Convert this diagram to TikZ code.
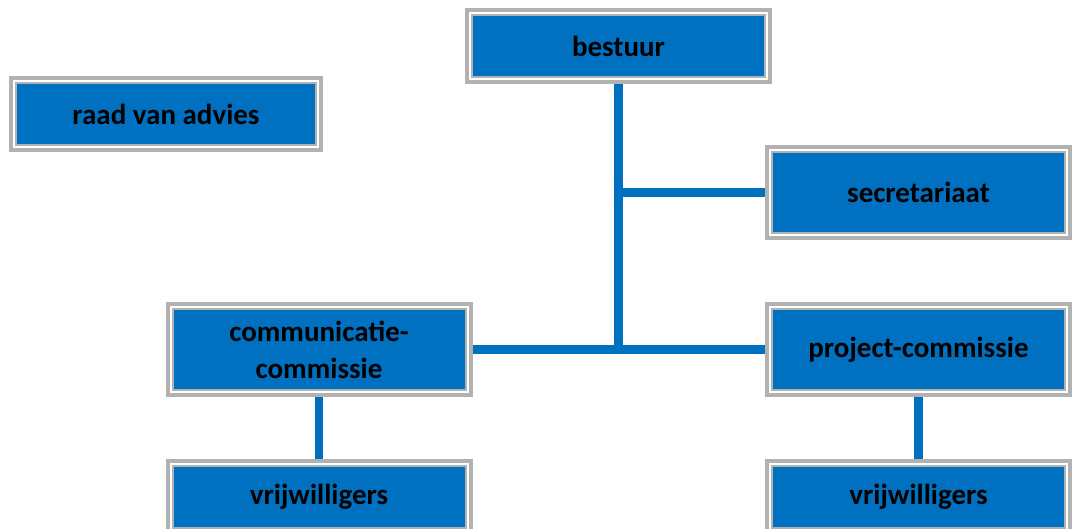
\documentclass[tikz,border=0pt]{standalone}
\usepackage{fontspec}
\setmainfont{Carlito}
\usetikzlibrary{positioning}

\definecolor{orgblue}{RGB}{0,112,192}
\definecolor{framegray}{RGB}{178,178,178}

\tikzset{
	unit/.style={rectangle, fill=orgblue, draw=framegray, line width=2pt,
		preaction={draw=framegray, line width=14pt},
		preaction={draw=white, line width=6pt},
		minimum width=293pt, minimum height=81pt, outer sep=7pt,
		inner sep=0pt, align=center,
		font=\bfseries\fontsize{29}{37}\selectfont},
	flat/.style={unit, minimum height=62pt},
	link/.style={draw=orgblue, line width=8.5pt}
}

\begin{document}
\begin{tikzpicture}[x=1pt,y=-1pt,node distance=157pt,on grid]
	\useasboundingbox (0,0) rectangle (1073,529);

	\node[flat] 			(bestuur) at (618.5,46)		{bestuur};
	\node[flat, minimum width=300pt] (raad) at (166,114.5)	{raad van advies};
	\node[unit] 			(secr) at (918.5,192.5)		{secretariaat};
	\node[unit] 			(proj) [below=of secr]		{project-commissie};
	\node[unit] 			(comm) [left=599.5pt of proj]	{communicatie-\\commissie};
	\node[flat] 			(vrijwR) [below=147.5pt of proj]	{vrijwilligers};
	\node[flat] 			(vrijwL) [below=147.5pt of comm]	{vrijwilligers};

	\coordinate (j_1) at (bestuur.south |- secr.west);
	\coordinate (j_2) at (bestuur.south |- proj.west);

\path[link]
	(bestuur.south)	--	(j_2)
	(j_1)			--	(secr.west)
	(comm.east)		--	(comm.east -| proj.west)
	(comm.south)	--	(vrijwL.north)
	(proj.south)	--	(vrijwR.north)
;
\end{tikzpicture}
\end{document}
